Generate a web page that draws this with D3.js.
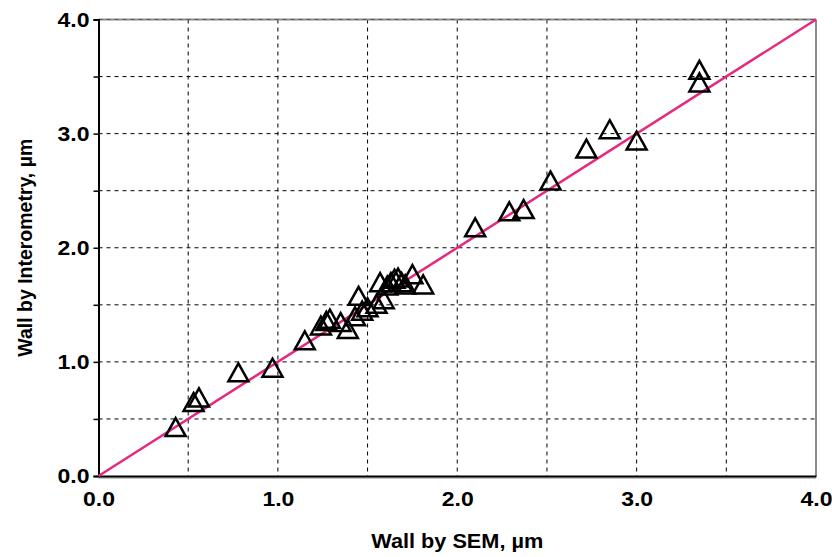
<!DOCTYPE html>
<html>
<head>
<meta charset="utf-8">
<script src="https://cdn.jsdelivr.net/npm/d3@7"></script>
<style>
  body { margin: 0; background: #fff; }
  text { font-family: "Liberation Sans Narrow", "Arial Narrow", "Liberation Sans", Arial, sans-serif; font-weight: bold; }
</style>
</head>
<body>
<div id="chart"></div>
<script>
// Wall thickness, SEM vs interferometry (um)
const semWall = [0.43, 0.53, 0.56, 0.78, 0.97, 1.15, 1.24, 1.27, 1.29, 1.35,
                 1.39, 1.43, 1.45, 1.47, 1.50, 1.55, 1.57, 1.59, 1.61, 1.63,
                 1.65, 1.67, 1.69, 1.71, 1.75, 1.81, 2.10, 2.29, 2.37, 2.52,
                 2.72, 2.85, 3.00, 3.35, 3.35];
const interWall = [0.42, 0.64, 0.68, 0.90, 0.94, 1.18, 1.31, 1.35, 1.37, 1.34,
                   1.28, 1.39, 1.57, 1.44, 1.47, 1.50, 1.69, 1.54, 1.66, 1.69,
                   1.72, 1.73, 1.69, 1.67, 1.76, 1.67, 2.17, 2.31, 2.33, 2.58,
                   2.86, 3.03, 2.93, 3.55, 3.44];
const gridValues = [0, 0.5, 1, 1.5, 2, 2.5, 3, 3.5, 4];
const labelValues = [0, 1, 2, 3, 4];
const identityLine = [0, 4];

const width = 832, height = 557;
const margin = {top: 19.5, right: 16, bottom: 81, left: 98.5};
const iw = width - margin.left - margin.right;
const ih = height - margin.top - margin.bottom;

const svg = d3.select("#chart").append("svg")
    .attr("width", width)
    .attr("height", height);

const g = svg.append("g")
    .attr("transform", `translate(${margin.left},${margin.top})`);

const x = d3.scaleLinear().domain([0, 4]).range([0, iw]);
const y = d3.scaleLinear().domain([0, 4]).range([ih, 0]);

// dashed grid
g.append("g").selectAll("line")
    .data(gridValues.filter(d => d > 0 && d < 4))
    .join("line")
    .attr("x1", d => x(d)).attr("x2", d => x(d))
    .attr("y1", 0).attr("y2", ih)
    .attr("stroke", "#000").attr("stroke-width", 1)
    .attr("stroke-dasharray", "4,4");
g.append("g").selectAll("line")
    .data(gridValues.filter(d => d > 0 && d < 4))
    .join("line")
    .attr("y1", d => y(d)).attr("y2", d => y(d))
    .attr("x1", 0).attr("x2", iw)
    .attr("stroke", "#000").attr("stroke-width", 1)
    .attr("stroke-dasharray", "4,4");

// top / right frame
g.append("line").attr("x1", 0).attr("x2", iw).attr("y1", 0).attr("y2", 0)
    .attr("stroke", "#8c8c8c").attr("stroke-width", 2);
g.append("line").attr("x1", iw).attr("x2", iw).attr("y1", 0).attr("y2", ih)
    .attr("stroke", "#8c8c8c").attr("stroke-width", 2);
g.append("line").attr("x1", 0).attr("x2", iw).attr("y1", 0).attr("y2", 0)
    .attr("stroke", "#555").attr("stroke-width", 1).attr("stroke-dasharray", "4,4");
// soft shadow under the bottom axis
g.append("line").attr("x1", 0).attr("x2", iw).attr("y1", ih + 2).attr("y2", ih + 2)
    .attr("stroke", "#b0b0b0").attr("stroke-width", 1.5);

// left / bottom axes
const yAxis = g.append("g")
    .call(d3.axisLeft(y).tickValues(gridValues).tickSize(5)
        .tickFormat(d => labelValues.includes(d) ? d3.format(".1f")(d) : ""));
const xAxis = g.append("g")
    .attr("transform", `translate(0,${ih})`)
    .call(d3.axisBottom(x).tickValues(labelValues).tickSize(0).tickPadding(12)
        .tickFormat(d3.format(".1f")));

[yAxis, xAxis].forEach(a => {
    a.select(".domain").attr("stroke", "#000").attr("stroke-width", 2);
    a.selectAll(".tick line").attr("stroke", "#000").attr("stroke-width", 1.5);
    a.selectAll("text").attr("font-size", 21).attr("fill", "#000")
        .style("font-family", "'Liberation Sans Narrow', 'Liberation Sans', Arial, sans-serif")
        .style("font-weight", "bold")
        .attr("textLength", function() { return this.textContent ? 32 : null; })
        .attr("lengthAdjust", "spacingAndGlyphs");
});
yAxis.selectAll("text").attr("x", -9);
xAxis.selectAll("text").attr("dy", "0.85em");

// identity line
g.append("line")
    .attr("x1", x(identityLine[0])).attr("y1", y(identityLine[0]))
    .attr("x2", x(identityLine[1])).attr("y2", y(identityLine[1]))
    .attr("stroke", "#e6287f").attr("stroke-width", 2.5);

// triangle markers
const tri = "M0,-10 L10,8 L-10,8 Z";
g.append("g").selectAll("path")
    .data(semWall.map((d, i) => ({sem: d, inter: interWall[i]})))
    .join("path")
    .attr("d", tri)
    .attr("transform", d => `translate(${x(d.sem)},${y(d.inter)})`)
    .attr("fill", "none")
    .attr("stroke", "#000")
    .attr("stroke-width", 2.5)
    .attr("stroke-linejoin", "miter");

// axis titles
svg.append("text")
    .attr("x", margin.left + iw / 2)
    .attr("y", 548)
    .attr("text-anchor", "middle")
    .attr("font-size", 21)
    .attr("textLength", 172)
    .attr("lengthAdjust", "spacingAndGlyphs")
    .text("Wall by SEM, \u00b5m");

svg.append("text")
    .attr("transform", `translate(32,${margin.top + ih / 2}) rotate(-90)`)
    .attr("text-anchor", "middle")
    .attr("font-size", 21)
    .attr("textLength", 218)
    .attr("lengthAdjust", "spacingAndGlyphs")
    .text("Wall by Interometry, \u00b5m");
</script>
</body>
</html>
